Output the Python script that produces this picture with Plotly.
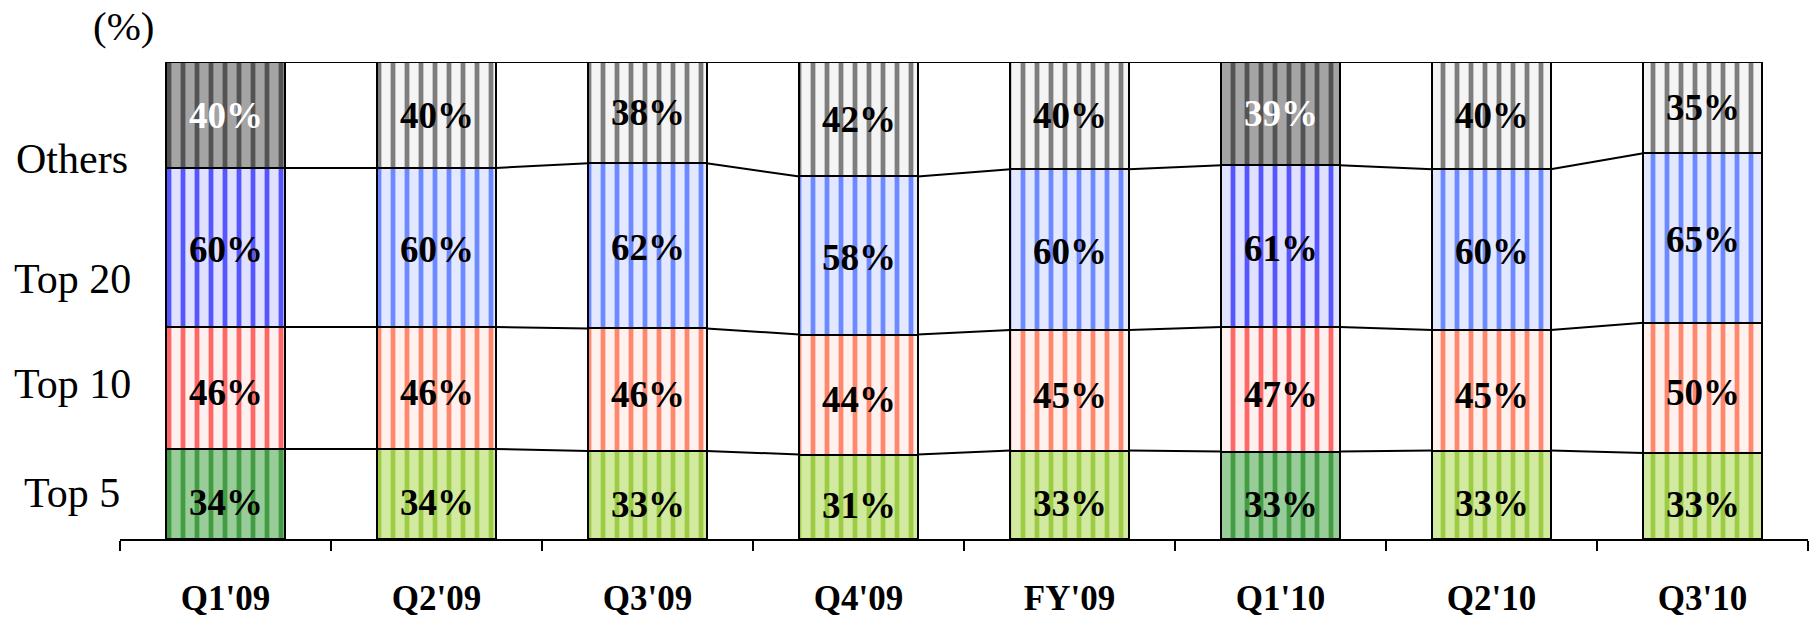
import plotly.graph_objects as go

categories = ["Q1'09", "Q2'09", "Q3'09", "Q4'09", "FY'09", "Q1'10", "Q2'10", "Q3'10"]
top5 = [34, 34, 33, 31, 33, 33, 33, 33]
top10 = [46, 46, 46, 44, 45, 47, 45, 50]
top20 = [60, 60, 62, 58, 60, 61, 60, 65]
others = [40, 40, 38, 42, 40, 39, 40, 35]
highlight = [True, False, False, False, False, True, False, False]
series_names = ["Top 5", "Top 10", "Top 20", "Others"]

SERIF = "Liberation Serif, Times New Roman, serif"
BAR_W = 0.56

# (bg, fg) for highlighted / normal bars
palettes = {
    "Top 5": (("#98cc98", "#1f861f"), ("#d2eaa0", "#86be1c")),
    "Top 10": (("#fff0f0", "#ff2a2a"), ("#fff2ee", "#ff5a35")),
    "Top 20": (("#e0e0ff", "#1a1aff"), ("#e3e8ff", "#3a60ff")),
    "Others": (("#a4a4a4", "#303030"), ("#f4f4f4", "#4a4a4a")),
}
text_shift = {"Top 5": -9, "Top 10": -5, "Top 20": -2, "Others": 0}

series = [top5, top10, top20, others]
totals = [sum(t) for t in zip(*series)]

fig = go.Figure()
annotations = []
cum = [0] * len(categories)
levels = []
for name, vals in zip(series_names, series):
    for is_hl, (bg, fg) in zip((True, False), palettes[name]):
        xs = [c for c, h in zip(categories, highlight) if h == is_hl]
        ys = [v for v, h in zip(vals, highlight) if h == is_hl]
        fig.add_trace(go.Bar(
            x=xs, y=ys, name=name, width=BAR_W,
            marker=dict(
                color=bg,
                line=dict(color="black", width=2),
                pattern=dict(shape="|", size=14, solidity=0.34,
                             fgcolor=fg, bgcolor=bg, fgopacity=0.7,
                             fillmode="replace"),
            ),
            hoverinfo="skip", showlegend=False,
        ))
    # value labels at the middle of each segment (from data)
    for i, (c, v, t, h) in enumerate(zip(cum, vals, totals, highlight)):
        annotations.append(dict(
            x=categories[i], y=100.0 * (c + v / 2) / t, xref="x", yref="y",
            text=f"<b>{v}%</b>", showarrow=False, yshift=text_shift[name],
            font=dict(family=SERIF, size=37,
                      color="white" if (h and name == "Others") else "black"),
        ))
    cum = [c + v for c, v in zip(cum, vals)]
    levels.append([100.0 * c / t for c, t in zip(cum, totals)])

shapes = []
for lev in levels:
    for i in range(len(categories) - 1):
        shapes.append(dict(
            type="line", xref="x", yref="y",
            x0=i + BAR_W / 2, y0=lev[i], x1=i + 1 - BAR_W / 2, y1=lev[i + 1],
            line=dict(color="black", width=2), layer="above",
        ))

annotations.append(dict(text="(%)", xref="paper", yref="paper", x=(123 - 120) / 1688,
                        y=(539 - 26) / 477, xanchor="center", yanchor="middle",
                        showarrow=False, font=dict(family=SERIF, size=41, color="black")))
label_pos = {"Others": 0.797, "Top 20": 0.545, "Top 10": 0.324, "Top 5": 0.096}
for name in series_names:
    annotations.append(dict(text=name, xref="paper", yref="paper", x=(72 - 120) / 1688,
                            y=label_pos[name], xanchor="center", yanchor="middle",
                            showarrow=False, font=dict(family=SERIF, size=42, color="black")))

fig.update_layout(
    barmode="stack", barnorm="percent",
    width=1812, height=617,
    margin=dict(l=120, r=4, t=62, b=78, autoexpand=False),
    paper_bgcolor="white", plot_bgcolor="white",
    shapes=shapes, annotations=annotations,
    xaxis=dict(type="category", categoryorder="array", categoryarray=categories,
               tickson="boundaries", ticks="outside", ticklen=10,
               tickwidth=1.5, tickcolor="black", showline=True, linecolor="black",
               linewidth=2, showgrid=False, zeroline=False, automargin=False,
               tickfont=dict(family=SERIF, size=35, color="black", weight="bold"),
               ticklabelstandoff=27, range=[-0.5, 7.5]),
    yaxis=dict(visible=False, range=[0, 100], fixedrange=True, automargin=False),
)

fig.write_html("out.html")
